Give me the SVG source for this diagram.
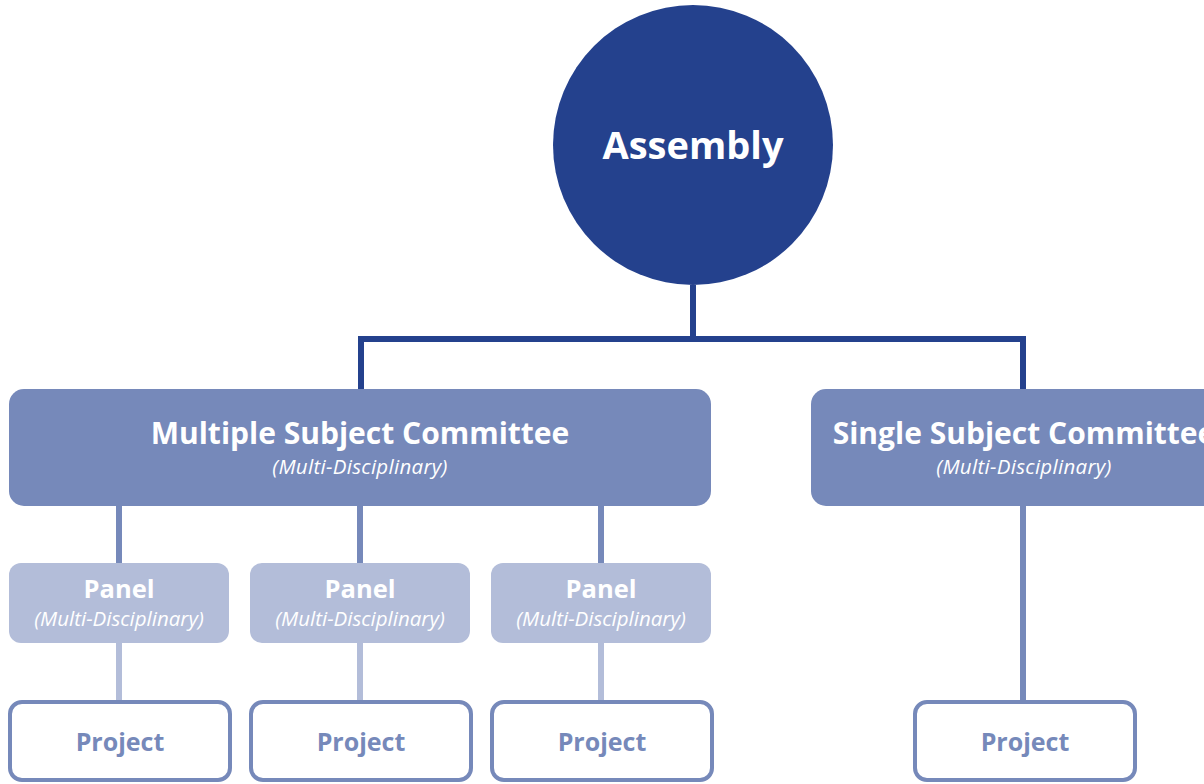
<svg xmlns="http://www.w3.org/2000/svg" width="1204" height="784" viewBox="0 0 1204 784">
<style>
.t{font-family:"Open Sans","Noto Sans","Liberation Sans",sans-serif;text-anchor:middle}
.b{font-weight:700}
.i{font-style:italic}
.cm{fill:#7689BA}
.pn{fill:#B3BDD9}
.pj{fill:#fff;stroke:#7689BA;stroke-width:4}
</style>
<rect width="1204" height="784" fill="#fff"/>
<g id="connectors" fill="none">
<path d="M693 285V339M361 339H1023M361 336V390M1023 336V390" stroke="#24418D" stroke-width="6"/>
<path d="M119 505V564M360 505V564M601 505V564M1023 505V702" stroke="#7689BA" stroke-width="6"/>
<path d="M119 642V702M360 642V702M601 642V702" stroke="#B3BDD9" stroke-width="6"/>
</g>
<g id="assembly">
<circle cx="693" cy="145" r="140" fill="#24418D"/>
<text class="t b" x="693" y="159" font-size="38" fill="#fff">Assembly</text>
</g>
<g id="multiple-committee">
<rect class="cm" x="9" y="389" width="702" height="117" rx="15"/>
<text class="t b" x="360" y="444" font-size="30" fill="#fff">Multiple Subject Committee</text>
<text class="t i" x="360" y="474" font-size="20.5" letter-spacing="0.3" fill="#fff">(Multi-Disciplinary)</text>
</g>
<g id="single-committee">
<rect class="cm" x="811" y="389" width="420" height="117" rx="15"/>
<text class="t b" x="1024" y="444" font-size="30" fill="#fff">Single Subject Committee</text>
<text class="t i" x="1024" y="474" font-size="20.5" letter-spacing="0.3" fill="#fff">(Multi-Disciplinary)</text>
</g>
<g id="panel1">
<rect class="pn" x="9" y="563" width="220" height="80" rx="12"/>
<text class="t b" x="119" y="598" font-size="25.5" fill="#fff">Panel</text>
<text class="t i" x="119" y="626" font-size="20.5" fill="#fff">(Multi-Disciplinary)</text>
</g>
<g id="panel2">
<rect class="pn" x="250" y="563" width="220" height="80" rx="12"/>
<text class="t b" x="360" y="598" font-size="25.5" fill="#fff">Panel</text>
<text class="t i" x="360" y="626" font-size="20.5" fill="#fff">(Multi-Disciplinary)</text>
</g>
<g id="panel3">
<rect class="pn" x="491" y="563" width="220" height="80" rx="12"/>
<text class="t b" x="601" y="598" font-size="25.5" fill="#fff">Panel</text>
<text class="t i" x="601" y="626" font-size="20.5" fill="#fff">(Multi-Disciplinary)</text>
</g>
<g id="project1">
<rect class="pj" x="10" y="702" width="220" height="78" rx="12"/>
<text class="t b" x="120" y="751" font-size="25" fill="#7689BA">Project</text>
</g>
<g id="project2">
<rect class="pj" x="251" y="702" width="220" height="78" rx="12"/>
<text class="t b" x="361" y="751" font-size="25" fill="#7689BA">Project</text>
</g>
<g id="project3">
<rect class="pj" x="492" y="702" width="220" height="78" rx="12"/>
<text class="t b" x="602" y="751" font-size="25" fill="#7689BA">Project</text>
</g>
<g id="project4">
<rect class="pj" x="915" y="702" width="220" height="78" rx="12"/>
<text class="t b" x="1025" y="751" font-size="25" fill="#7689BA">Project</text>
</g>
</svg>
